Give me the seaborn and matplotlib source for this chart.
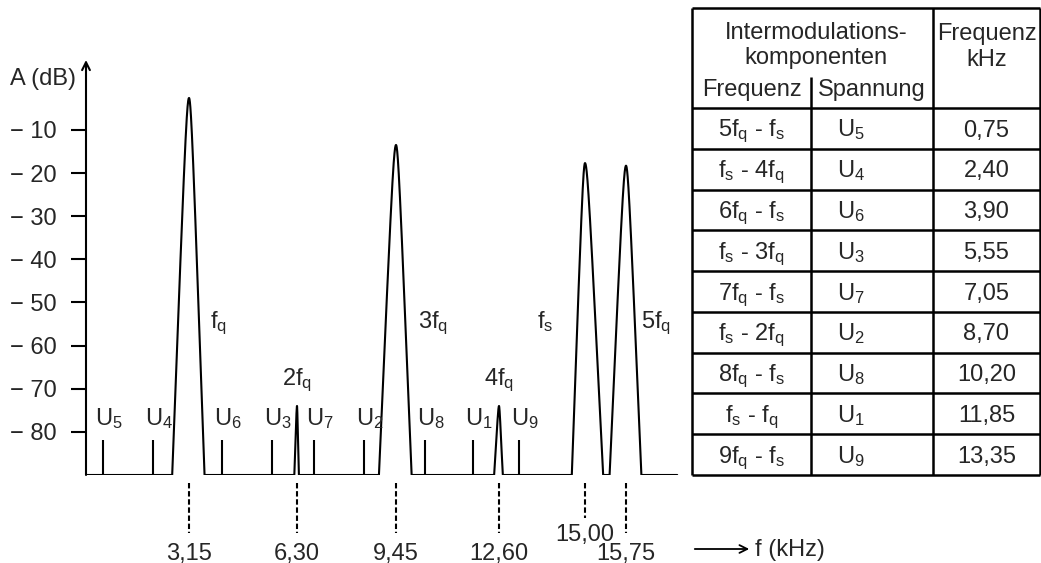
import matplotlib
matplotlib.use("Agg")
import matplotlib.pyplot as plt
import seaborn as sns
import numpy as np
from matplotlib.ticker import FuncFormatter

# main spectral lines
peak_names = ["f$_q$", "2f$_q$", "3f$_q$", "4f$_q$", "f$_s$", "5f$_q$"]
peak_khz = [3.15, 6.30, 9.45, 12.60, 15.00, 15.75]
peak_db = [-2.6, -74.0, -13.5, -74.0, -17.7, -18.3]
peak_halfwidth = [0.35, 0.08, 0.40, 0.14, 0.33, 0.30]
marker_labels = ["3,15", "6,30", "9,45", "12,60", "15,00", "15,75"]

# intermodulation products (table + small lines)
im_formula = ["5f$_q$ - f$_s$", "f$_s$ - 4f$_q$", "6f$_q$ - f$_s$",
              "f$_s$ - 3f$_q$", "7f$_q$ - f$_s$", "f$_s$ - 2f$_q$",
              "8f$_q$ - f$_s$", "f$_s$ - f$_q$", "9f$_q$ - f$_s$"]
im_voltage = ["U$_5$", "U$_4$", "U$_6$", "U$_3$", "U$_7$",
              "U$_2$", "U$_8$", "U$_1$", "U$_9$"]
im_khz = [0.75, 2.40, 3.90, 5.55, 7.05, 8.70, 10.20, 11.85, 13.35]
im_text = ["0,75", "2,40", "3,90", "5,55", "7,05", "8,70", "10,20", "11,85", "13,35"]
im_db = -82.0

floor_db = -90.0
trace_end = 16.75
y_top = 6.2

sns.set_theme(style="white")
plt.rcParams["font.family"] = ["Liberation Sans", "DejaVu Sans"]
plt.rcParams["mathtext.fontset"] = "custom"
plt.rcParams["mathtext.rm"] = "Liberation Sans"
plt.rcParams["mathtext.it"] = "Liberation Sans"
plt.rcParams["mathtext.default"] = "regular"

FS = 17

# the drawing is schematic: the frequency axis is not evenly spaced
knot_khz = [0.0] + sorted(im_khz + peak_khz) + [17.0]
knot_px = [86, 103, 153, 189, 222, 272, 297, 314, 364, 396, 425,
           473, 499, 519, 585, 626, 690]


def fwd(x):
    return np.interp(x, knot_khz, knot_px)


def inv(p):
    return np.interp(p, knot_px, knot_khz)


def peak_profile(d, hw, a=0.18):
    u = np.abs(d) / hw
    return (np.sqrt(u ** 2 + a ** 2) - a) / (np.sqrt(1 + a ** 2) - a)


# build the trace
x = np.linspace(0, trace_end, 8000)
x = np.union1d(x, np.array(peak_khz))
y = np.full_like(x, floor_db)
for c, top, hw in zip(peak_khz, peak_db, peak_halfwidth):
    d = x - c
    m = np.abs(d) < hw
    y[m] = np.maximum(y[m], top - (top - floor_db) * peak_profile(d[m], hw))

W, H = 1041, 563
fig = plt.figure(figsize=(W / 100, H / 100), dpi=100)
ax = fig.add_axes([86 / W, (H - 475) / H, (690 - 86) / W, (475 - 60) / H])
ax.set_xscale("function", functions=(fwd, inv))
ax.set_xlim(0, 17.0)
ax.set_ylim(floor_db, y_top)

sns.lineplot(x=x, y=y, color="black", linewidth=1.5, estimator=None,
             sort=False, ax=ax)
ax.vlines(im_khz, floor_db, im_db, color="black", linewidth=1.5)

for f, lab in zip(im_khz, im_voltage):
    ax.annotate(lab, (f, -78.4), xytext=(-6, 0), textcoords="offset points",
                ha="left", va="baseline", fontsize=FS)

# peak labels
label_pos = {0: (15, -56), 1: (0, -69.2), 2: (16, -56), 3: (0, -69.2),
             4: (-23, -56), 5: (11, -56)}
for i, name in enumerate(peak_names):
    dx, ly = label_pos[i]
    ha = "center" if dx == 0 else ("left" if dx > 0 else "right")
    ax.annotate(name, (peak_khz[i], ly), xytext=(dx, 0),
                textcoords="offset points", ha=ha, va="baseline", fontsize=FS)

# dashed markers with frequency values below the baseline
for f, lab in zip(peak_khz, marker_labels):
    bottom = -100.0 if lab == "15,00" else -103.5
    ty = -105.2 if lab == "15,00" else -109.6
    ax.vlines(f, -91.9, bottom, color="black", linewidth=1.5,
              linestyles=(0, (2.6, 1.3)), clip_on=False)
    ax.text(f, ty, lab, ha="center", va="baseline", fontsize=FS, clip_on=False)

# y axis with arrow
for s in ax.spines.values():
    s.set_visible(False)
ax.annotate("", xy=(0, y_top), xytext=(0, floor_db),
            arrowprops=dict(arrowstyle="->", lw=1.5, color="black",
                            shrinkA=0, shrinkB=0, mutation_scale=14),
            annotation_clip=False)
ax.set_xticks([])
ax.set_yticks(np.arange(-80, 0, 10))
ax.yaxis.set_major_formatter(FuncFormatter(lambda v, _: f"\u2212 {abs(int(v))}"))
ax.tick_params(axis="y", left=True, direction="out", length=11, width=1.5,
               pad=10, labelsize=FS, color="black")
ax.set_xlabel("")
ax.set_ylabel("")
ax.patch.set_alpha(0)

fig.text(10 / W, (H - 85) / H, "A (dB)", fontsize=FS, ha="left", va="baseline")
fig.patches.append(matplotlib.patches.FancyArrowPatch(
    (692 / W, (H - 549) / H), (752 / W, (H - 549) / H),
    transform=fig.transFigure, arrowstyle="->", mutation_scale=14,
    lw=1.3, color="black"))
fig.text(755 / W, (H - 556) / H, "f (kHz)", fontsize=FS, ha="left", va="baseline")

# table, drawn in pixel coordinates
tx = fig.add_axes([0, 0, 1, 1], zorder=-1)
tx.set_xlim(0, W)
tx.set_ylim(H, 0)
tx.axis("off")
left, c1, c2, right = 692, 811, 933, 1040
top, head, bottom = 8, 108, 475
row_h = (bottom - head) / len(im_formula)
lw = 1.8
tx.vlines([left, c2, right], top, bottom, color="black", lw=lw)
tx.vlines(c1, 77, bottom, color="black", lw=lw)
tx.hlines([top, head, bottom], left, right, color="black", lw=lw)
tx.hlines([head + row_h * k for k in range(1, len(im_formula))], left, right,
          color="black", lw=lw)

tx.text((left + c2) / 2 + 4, 39, "Intermodulations-", ha="center", va="baseline", fontsize=FS)
tx.text((left + c2) / 2 + 3, 64, "komponenten", ha="center", va="baseline", fontsize=FS)
tx.text((left + c1) / 2, 96, "Frequenz", ha="center", va="baseline", fontsize=FS)
tx.text((c1 + c2) / 2, 96, "Spannung", ha="center", va="baseline", fontsize=FS)
tx.text((c2 + right) / 2, 40, "Frequenz", ha="center", va="baseline", fontsize=FS)
tx.text((c2 + right) / 2, 66, "kHz", ha="center", va="baseline", fontsize=FS)

for k, (fm, u, t) in enumerate(zip(im_formula, im_voltage, im_text)):
    base = head + row_h * k + 28.5
    tx.text((left + c1) / 2, base, fm, ha="center", va="baseline", fontsize=FS)
    tx.text(837, base, u, ha="left", va="baseline", fontsize=FS)
    tx.text((c2 + right) / 2, base, t, ha="center", va="baseline", fontsize=FS)

fig.savefig("out.png", dpi=100)
